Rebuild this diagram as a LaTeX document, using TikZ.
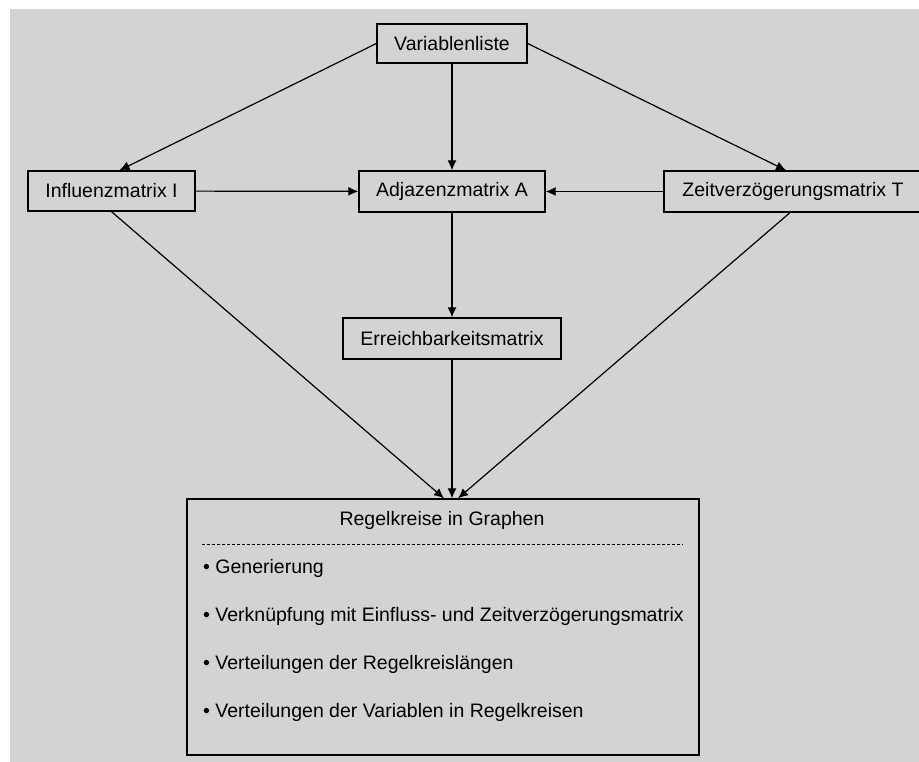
\documentclass[tikz,border=0pt]{standalone}
\usepackage{fontspec}
\setmainfont{Liberation Sans}
\usetikzlibrary{arrows.meta}
\definecolor{bggray}{RGB}{211,211,211}

\begin{document}
\begin{tikzpicture}[x=1pt,y=-1pt,
  box/.style={draw,line width=1.3pt,inner sep=0pt,font=\fontsize{19.5}{23}\selectfont},
  txt/.style={inner sep=0pt,font=\fontsize{19.5}{23}\selectfont},
  pfeil/.style={line width=1.2pt,-{Latex[length=10pt,width=9pt]}}]
\useasboundingbox (0,0) rectangle (919,762);
\fill[bggray] (10,9) rectangle (919,762);
% Kaesten
\node[box,minimum width=150pt,minimum height=39pt] (var) at (452,43.5) {Variablenliste};
\node[box,minimum width=167pt,minimum height=40pt] (inf) at (111.5,191) {Influenzmatrix I};
\node[box,minimum width=186pt,minimum height=41pt] (adj) at (452,191.5) {Adjazenzmatrix A};
\node[box,minimum width=258pt,minimum height=41pt] (zeit) at (793,191.5) {Zeitverzögerungsmatrix T};
\node[box,minimum width=218pt,minimum height=41pt] (err) at (452,338.5) {Erreichbarkeitsmatrix};
\node[box,minimum width=512pt,minimum height=256pt] (reg) at (443,627) {};
% Inhalt von reg
\node[txt] (regtitel) at (442,520) {Regelkreise in Graphen};
\draw[line width=1.1pt,dash pattern=on 3pt off 2pt] ([xshift=16pt,yshift=-46pt]reg.north west) -- ([xshift=-17pt,yshift=-46pt]reg.north east);
\node[txt,anchor=west] (gen) at (203,568) {\textbullet\ Generierung};
\node[txt,anchor=west] (verk) at (203,616) {\textbullet\ Verknüpfung mit Einfluss- und Zeitverzögerungsmatrix};
\node[txt,anchor=west] (vlaen) at (203,664) {\textbullet\ Verteilungen der Regelkreislängen};
\node[txt,anchor=west] (vvar) at (203,712) {\textbullet\ Verteilungen der Variablen in Regelkreisen};
% Pfeile
\draw[pfeil] (var.west) -- ([xshift=8pt]inf.north);
\draw[pfeil] (var.east) -- ([xshift=-7pt]zeit.north);
\draw[pfeil] (var) -- (adj);
\draw[pfeil] (inf) -- (adj);
\draw[pfeil] (zeit.west) -- (adj);
\draw[pfeil] (adj) -- (err);
\draw[pfeil] (err.south) -- (err.south |- reg.north);
\draw[pfeil] (inf.south) -- ([xshift=1pt]reg.north);
\draw[pfeil] ([xshift=-3pt]zeit.south) -- ([xshift=15pt]reg.north);
\end{tikzpicture}
\end{document}
